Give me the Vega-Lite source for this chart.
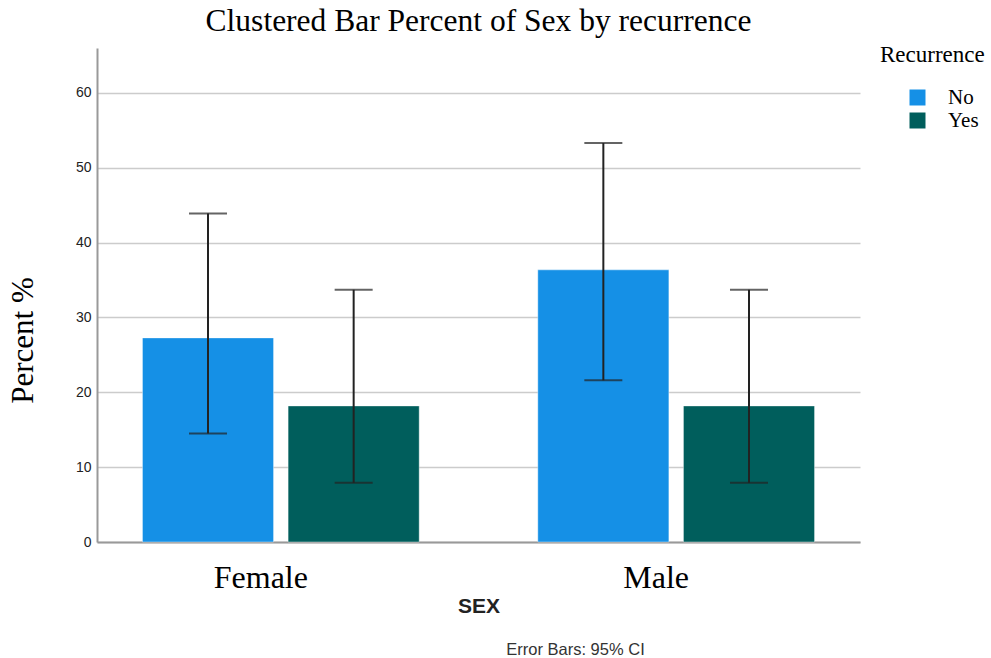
{
  "$schema": "https://vega.github.io/schema/vega-lite/v6.json",
  "autosize": "none",
  "padding": {"left": 97, "top": 48, "right": 131, "bottom": 116},
  "width": 763,
  "height": 494,
  "background": "white",
  "title": {
    "text": "Clustered Bar Percent of Sex by recurrence",
    "font": "Liberation Serif",
    "fontSize": 31.5,
    "fontWeight": "normal",
    "color": "black",
    "anchor": "middle",
    "offset": 7
  },
  "config": {
    "view": {"stroke": null},
    "axis": {"labelFont": "Liberation Sans", "titleFont": "Liberation Sans"}
  },
  "data": {
    "values": [
      {"sex": "Female", "recurrence": "No", "percent": 27.27, "lo": 14.5, "hi": 43.9},
      {"sex": "Female", "recurrence": "Yes", "percent": 18.18, "lo": 7.9, "hi": 33.7},
      {"sex": "Male", "recurrence": "No", "percent": 36.36, "lo": 21.6, "hi": 53.3},
      {"sex": "Male", "recurrence": "Yes", "percent": 18.18, "lo": 7.9, "hi": 33.7}
    ]
  },
  "encoding": {
    "x": {
      "field": "sex",
      "type": "nominal",
      "scale": {"paddingInner": 0.3, "paddingOuter": 0.115},
      "sort": ["Female", "Male"]
    },
    "xOffset": {
      "field": "recurrence",
      "type": "nominal",
      "scale": {"paddingInner": 0.1, "paddingOuter": 0}
    }
  },
  "layer": [
    {
      "mark": {"type": "bar", "stroke": "#ffffff", "strokeOpacity": 0.4, "strokeWidth": 1},
      "encoding": {
        "x": {
          "field": "sex",
          "type": "nominal",
          "axis": {
            "title": "SEX",
            "titleFont": "Liberation Sans",
            "titleFontSize": 21,
            "titleFontWeight": "bold",
            "titleColor": "#222",
            "titleY": 64,
            "titleBaseline": "middle",
            "labelFont": "Liberation Serif",
            "labelFontSize": 32,
            "labelColor": "black",
            "labelAngle": 0,
            "labelPadding": 20,
            "labelOffset": -20,
            "ticks": false,
            "domainColor": "#999",
            "domainWidth": 2
          }
        },
        "y": {
          "field": "percent",
          "type": "quantitative",
          "scale": {"domain": [0, 66], "nice": false},
          "axis": {
            "title": "Percent %",
            "titleFont": "Liberation Serif",
            "titleFontSize": 31,
            "titleFontWeight": "normal",
            "titleColor": "black",
            "titlePadding": 36,
            "titleY": 292,
            "values": [0, 10, 20, 30, 40, 50, 60],
            "labelFont": "Liberation Sans",
            "labelFontSize": 14,
            "labelColor": "#222",
            "labelPadding": 6,
            "ticks": false,
            "domainColor": "#999",
            "domainWidth": 2,
            "gridColor": "#cccccc",
            "gridWidth": 1.5
          }
        },
        "color": {
          "field": "recurrence",
          "type": "nominal",
          "scale": {"domain": ["No", "Yes"], "range": ["#1590E6", "#005E5C"]},
          "legend": {
            "title": "Recurrence",
            "titleFont": "Liberation Serif",
            "titleFontSize": 23,
            "titleFontWeight": "normal",
            "titleColor": "black",
            "titlePadding": 20,
            "labelFont": "Liberation Serif",
            "labelFontSize": 21,
            "labelColor": "black",
            "labelBaseline": "middle",
            "labelOffset": 20,
            "symbolType": "square",
            "symbolSize": 256,
            "symbolStrokeWidth": 0,
            "symbolOffset": 27,
            "rowPadding": 1,
            "orient": "none",
            "legendX": 783,
            "legendY": -4
          }
        }
      }
    },
    {
      "mark": {"type": "rule", "color": "#222", "strokeWidth": 2},
      "encoding": {
        "x": {
          "field": "sex",
          "type": "nominal",
          "axis": {
            "orient": "bottom",
            "title": "Error Bars: 95% CI",
            "titleFont": "Liberation Sans",
            "titleFontSize": 16.5,
            "titleFontWeight": "normal",
            "titleColor": "#333",
            "titleX": 478,
            "titleY": 107,
            "titleBaseline": "middle",
            "labels": false,
            "ticks": false,
            "domain": false,
            "grid": false
          }
        },
        "y": {"field": "lo", "type": "quantitative"},
        "y2": {"field": "hi"}
      }
    },
    {
      "mark": {"type": "tick", "color": "#222", "thickness": 2, "size": 38},
      "encoding": {
        "x": {"field": "sex", "type": "nominal", "axis": null},
        "y": {"field": "lo", "type": "quantitative"}
      }
    },
    {
      "mark": {"type": "tick", "color": "#222", "thickness": 2, "size": 38},
      "encoding": {
        "x": {"field": "sex", "type": "nominal", "axis": null},
        "y": {"field": "hi", "type": "quantitative"}
      }
    }
  ],
  "resolve": {"axis": {"x": "independent"}}
}
